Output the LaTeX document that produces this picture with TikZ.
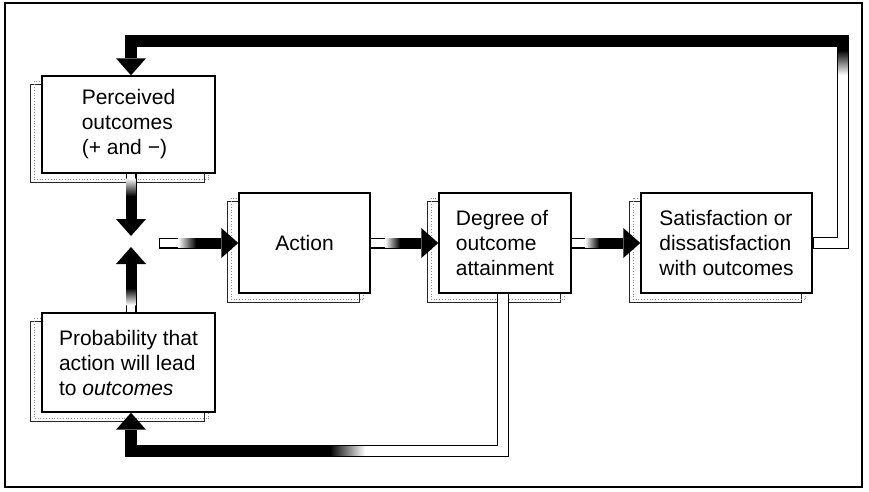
\documentclass[tikz,border=0pt]{standalone}
\usepackage{fontspec}
\setmainfont{Liberation Sans}
\usetikzlibrary{arrows.meta,backgrounds}
\begin{document}
\begin{tikzpicture}[x=1pt,y=-1pt,
  box/.style={draw, line width=1.4pt, fill=white, align=left, inner sep=0pt,
    font=\fontsize{21}{25}\selectfont},
  shadowline/.style={draw=black!85, line width=1pt},
  shadowin/.style={draw=black!45, line width=0.8pt, dotted},
  arr/.style={line width=11pt, -{Triangle[width=30pt,length=17pt,line width=0pt]}},
  fb/.style={line width=12pt, line join=miter, -{Triangle[width=30pt,length=17pt,line width=0pt]}},
  hollow/.style={white, line width=9.4pt, line join=miter},
]
\useasboundingbox (0,0) rectangle (869,491);
\draw[line width=2pt] (5,3) rectangle (862,487);

% boxes
\node[box, minimum width=173pt, minimum height=97pt] (P) at (128.5,124.5) {Perceived\\outcomes\\(+ and −)};
\node[box, minimum width=173pt, minimum height=99pt] (Q) at (128.5,362.5) {Probability that\\action will lead\\to \textit{outcomes}};
\node[box, minimum width=131pt, minimum height=100pt] (A) at (304.5,243) {Action};
\node[box, minimum width=132pt, minimum height=100pt] (D) at (505,243) {Degree of\\outcome\\attainment};
\node[box, minimum width=171pt, minimum height=100pt] (S) at (726.5,243) {Satisfaction or\\dissatisfaction\\with outcomes};

% shadows
\begin{scope}[on background layer]
\foreach \n in {P,Q,A,D,S}{
  \draw[shadowline] ([shift={(-11,9)}]\n.north west) rectangle ([shift={(-11,9)}]\n.south east);
  \draw[shadowin] ([shift={(-7,6)}]\n.north west) rectangle ([shift={(-7,6)}]\n.south east);
}
\end{scope}

% named points
\coordinate (mid) at (131,241.5);
\coordinate (in) at (159,243);
\coordinate (tr) at (843,41);
\coordinate (br) at (503,451);

% main flow
\draw[arr] (P.south -| mid) -- ([yshift=5.5pt]mid);
\fill[white] (126.7,174) rectangle (135.3,178);
\shade[top color=white, bottom color=black] (126.7,178) rectangle (135.3,196);

\draw[arr] (Q.north -| mid) -- ([yshift=-5.5pt]mid);
\fill[white] (126.7,312) rectangle (135.3,305);
\shade[top color=black, bottom color=white] (126.7,288) rectangle (135.3,305);

\draw[arr] (in) -- (A.west);
\fill[white] (160.2,238.7) rectangle (178,247.3);
\shade[left color=white, right color=black] (178,238.7) rectangle (196,247.3);

\draw[arr] (A.east) -- (D.west);
\fill[white] (371,238.7) rectangle (385,247.3);
\shade[left color=white, right color=black] (385,238.7) rectangle (400,247.3);

\draw[arr] (D.east) -- (S.west);
\fill[white] (572,238.7) rectangle (585,247.3);
\shade[left color=white, right color=black] (585,238.7) rectangle (599,247.3);

% feedback loops
\draw[fb] (S.east) -| (tr) -| (P.north -| mid);
\draw[hollow] (813.5,243) -| (843,75);
\shade[top color=black, bottom color=white] (838.3,50) rectangle (847.7,75);

\draw[fb] (D.south -| br) -- (br) -| (Q.south -| mid);
\draw[hollow] (503,294) |- (365,451);
\shade[left color=black, right color=white] (330,446.3) rectangle (365,455.7);
\end{tikzpicture}
\end{document}
